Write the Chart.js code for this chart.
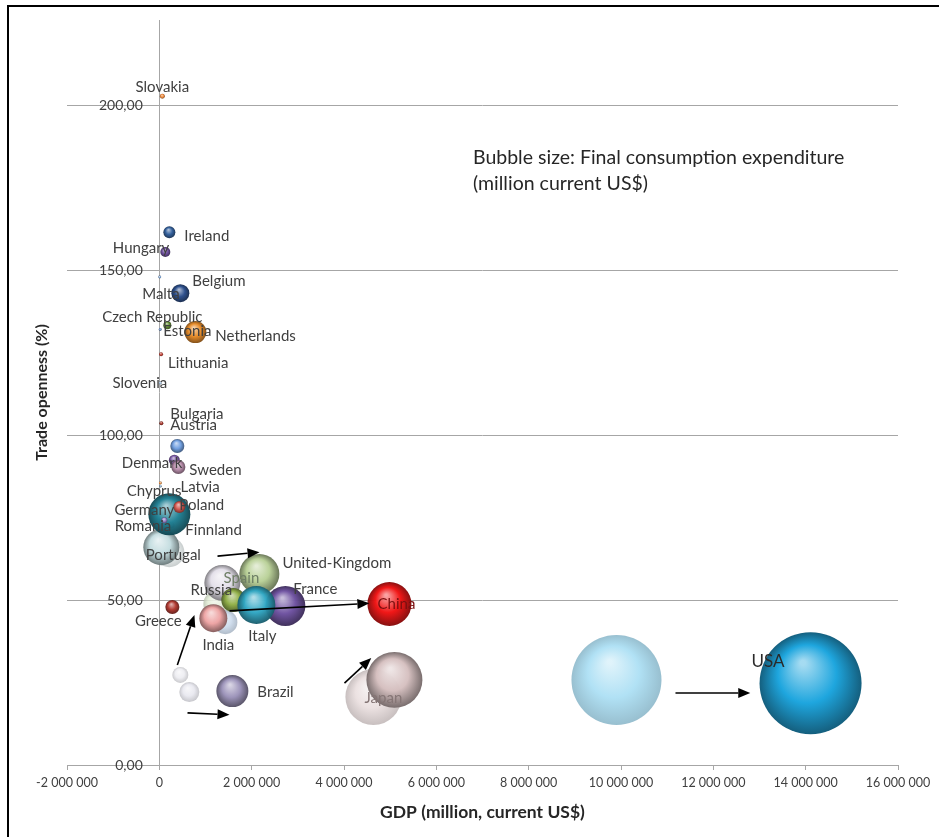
<!DOCTYPE html>
<html>
<head>
<meta charset="utf-8">
<title>Trade openness and GDP</title>
<script src="https://cdn.jsdelivr.net/npm/chart.js@4.4.1/dist/chart.umd.min.js"></script>
<style>
  html, body { margin: 0; padding: 0; background: #fff; }
  #wrap { position: relative; width: 944px; height: 837px; overflow: hidden; }
  #frame {
    position: absolute; left: 7px; top: 5px; width: 930px; height: 860px;
    border-left: 2px solid #000; border-top: 2px solid #000; pointer-events: none;
  }
</style>
</head>
<body>
<div id="wrap">
  <canvas id="chart"></canvas>
  <div id="frame"></div>
</div>
<script>
// Countries, listed back-to-front (drawing order)
const countries = ['Portugal', 'Finnland', 'Germany', 'Slovakia', 'Ireland', 'Hungary', 'Malta', 'Belgium',
  'Czech Republic', 'Estonia', 'Netherlands', 'Lithuania', 'Slovenia', 'Bulgaria', 'Austria', 'Denmark',
  'Sweden', 'Chyprus', 'Latvia', 'Poland', 'Romania', 'Spain', 'United-Kingdom', 'Russia', 'France',
  'Italy', 'India', 'Greece', 'China', 'Brazil', 'Japan', 'USA'];

// GDP (million, current US$)
const gdp = [43000, 260000, 217000, 65000, 217000, 130000, 8000, 455000,
  173000, 19000, 780000, 37000, 20000, 43000, 390000, 325000,
  412000, 23000, 24000, 433000, 108000, 1365000, 2167000, 1603000, 2730000,
  2102000, 1170000, 282000, 4984000, 1582000, 5092000, 14106000];

// Trade openness (%)
const openness = [66.0, 72.7, 76.0, 202.7, 161.5, 155.5, 147.9, 143.0,
  133.3, 132.0, 131.2, 124.5, 115.8, 103.6, 96.7, 92.4,
  90.3, 85.5, 84.5, 78.2, 74.2, 55.2, 57.9, 50.0, 48.2,
  48.5, 44.5, 47.9, 48.8, 22.4, 25.8, 24.8];

// Final consumption expenditure (million current US$) -> bubble size
const consumption = [1432000, 39800, 1950000, 27600, 159000, 110500, 9900, 358000,
  70700, 9900, 535000, 17700, 9900, 17700, 216600, 133700,
  216600, 9900, 6400, 159000, 39800, 1432000, 1768000, 637000, 1768000,
  1596000, 866500, 216600, 2140000, 1132000, 3466000, 11500000];

// Earlier-year positions (faded bubbles, unlabeled)
const earlierGdp = [217000, 1235000, 1430000, 455000, 650000, 4637000, 9902000];
const earlierOpenness = [64.5, 48.8, 43.3, 27.3, 22.1, 20.6, 25.8];
const earlierConsumption = [995000, 747000, 637000, 283000, 442000, 3466000, 8953000];

// Arrows (from earlier to later), in data units
const arrowFromX = [1260000, 1520000, 390000, 610000, 4010000, 11180000];
const arrowFromY = [63.3, 46.7, 30.3, 15.8, 24.8, 21.8];
const arrowToX = [2170000, 4550000, 760000, 1520000, 4590000, 12800000];
const arrowToY = [64.5, 49.0, 45.5, 15.2, 32.4, 21.8];

// Axis ticks
const yTicks = [0, 50, 100, 150, 200];

// ---- styling (kept apart from the data) ----
const bubbleColors = ['#c4dde0', '#c8d6e8', '#1d7f93', '#f08a3c', '#2e5c9a', '#6a4a9c', '#7fa7d8', '#274b8a',
  '#5e8c2e', '#6b8fc8', '#e88a25', '#c23b30', '#9bbad8', '#a83228', '#6d9de0', '#7a58a8',
  '#b58aa8', '#e08a40', '#7faad0', '#d9574e', '#9a86cc', '#e3dfe9', '#b8d096', '#8fae45', '#6c4f9f',
  '#2fa7c4', '#eea3a3', '#b0352c', '#f01010', '#9a91b8', '#d5bfbf', '#17a3dd'];
const earlierColors = ['#e8efef', '#e2ecd5', '#c8d8ea', '#ebebf0', '#e6e6ee', '#e8dcdc', '#a3dcf3'];

// label placement: [align, dx, dy] in pixels from bubble centre
const labelPlace = [
  ['center', 12, 8], ['left', 14, 5], ['right', 5, -4], ['center', 0, -9], ['left', 15, 4],
  ['right', 4, -4], ['right', 20, 17], ['left', 12, -12], ['center', -15, -8], ['left', 3, 2],
  ['left', 20, 4], ['left', 7, 9], ['right', 7, 0], ['left', 9, -9], ['left', -7, -21],
  ['right', 8, 3], ['left', 11, 3], ['right', 21, 8], ['left', 20, 1], ['left', 0, -2],
  ['right', 7, 6], ['center', 19, -5], ['left', 23, -11], ['center', -22, -10], ['left', 8, -17],
  ['center', 6, 31], ['center', 5, 27], ['center', -14, 14], ['center', 7, 0], ['left', 25, 1],
  ['center', -11, 18], ['left', -59, -22]
];
const labelColor = { 'China': '#7a1010', 'Japan': '#857575', 'Spain': '#6f7f66', 'USA': '#2a2a2a' };

const MAX_RADIUS = 51;
const maxConsumption = Math.max(...consumption);
function bubbleRadius(v) {
  return MAX_RADIUS * Math.sqrt(v / maxConsumption);
}

function tint(hex, amt, alpha) {
  const n = parseInt(hex.slice(1), 16);
  let r = n >> 16, g = (n >> 8) & 255, b = n & 255;
  const t = amt < 0 ? 0 : 255, p = Math.abs(amt);
  r = Math.round(r + (t - r) * p);
  g = Math.round(g + (t - g) * p);
  b = Math.round(b + (t - b) * p);
  return `rgba(${r},${g},${b},${alpha})`;
}

// 3D-looking sphere fill
function sphere(context, colors, alpha, rim) {
  const base = colors[context.dataIndex] || '#999999';
  const chart = context.chart;
  const raw = context.raw;
  if (!raw || !chart.chartArea) return base;
  const x = chart.scales.x.getPixelForValue(raw.x);
  const y = chart.scales.y.getPixelForValue(raw.y);
  const r = Math.max(raw.r, 0.5);
  const g = chart.ctx.createRadialGradient(x - r * 0.15, y - r * 0.4, r * 0.05, x, y, r);
  g.addColorStop(0, tint(base, 0.6, alpha));
  g.addColorStop(0.55, tint(base, 0, alpha));
  g.addColorStop(1, tint(base, -rim, alpha));
  return g;
}

const mainPoints = countries.map((c, i) => ({ x: gdp[i], y: openness[i], r: bubbleRadius(consumption[i]) }));
const earlierPoints = earlierGdp.map((g, i) => ({ x: g, y: earlierOpenness[i], r: bubbleRadius(earlierConsumption[i]) }));

function spaced(v) {
  return String(v).replace(/\B(?=(\d{3})+(?!\d))/g, ' ');
}

// Arrows, country labels and the size note
const overlayPlugin = {
  id: 'overlay',
  afterDatasetsDraw(chart) {
    const { ctx, scales: { x, y } } = chart;
    ctx.save();

    ctx.strokeStyle = '#000';
    ctx.fillStyle = '#000';
    ctx.lineWidth = 1.6;
    arrowFromX.forEach((fx, i) => {
      const x1 = x.getPixelForValue(fx), y1 = y.getPixelForValue(arrowFromY[i]);
      const x2 = x.getPixelForValue(arrowToX[i]), y2 = y.getPixelForValue(arrowToY[i]);
      const a = Math.atan2(y2 - y1, x2 - x1);
      const head = 12, w = 5;
      const bx = x2 - head * Math.cos(a), by = y2 - head * Math.sin(a);
      ctx.beginPath();
      ctx.moveTo(x1, y1);
      ctx.lineTo(bx, by);
      ctx.stroke();
      ctx.beginPath();
      ctx.moveTo(x2, y2);
      ctx.lineTo(bx + w * Math.sin(a), by - w * Math.cos(a));
      ctx.lineTo(bx - w * Math.sin(a), by + w * Math.cos(a));
      ctx.closePath();
      ctx.fill();
    });

    const meta = chart.getDatasetMeta(0);
    ctx.textBaseline = 'middle';
    meta.data.forEach((pt, i) => {
      const name = countries[i];
      const [align, dx, dy] = labelPlace[i];
      ctx.font = name === 'USA' ? '17px Lato' : '15px Lato';
      ctx.fillStyle = labelColor[name] || '#404040';
      ctx.textAlign = align;
      ctx.fillText(name, pt.x + dx, pt.y + dy);
    });

    ctx.font = '19.5px Lato';
    ctx.fillStyle = '#262626';
    ctx.textAlign = 'left';
    ctx.fillText('Bubble size: Final consumption expenditure', 473, 158);
    ctx.fillText('(million current US$)', 473, 184);
    ctx.restore();
  }
};

Chart.defaults.font.family = 'Lato';

new Chart(document.getElementById('chart'), {
  type: 'bubble',
  data: {
    datasets: [
      {
        label: 'Latest year',
        data: mainPoints,
        borderWidth: 0,
        backgroundColor: (c) => sphere(c, bubbleColors, 0.97, 0.45)
      },
      {
        label: 'Earlier year',
        data: earlierPoints,
        borderWidth: 0,
        backgroundColor: (c) => sphere(c, earlierColors, 0.85, 0.18)
      }
    ]
  },
  options: {
    responsive: true,
    maintainAspectRatio: false,
    animation: false,
    events: [],
    layout: { autoPadding: false, padding: { top: 20, right: 46, left: 0, bottom: 0 } },
    plugins: {
      legend: { display: false },
      tooltip: { enabled: false }
    },
    scales: {
      x: {
        type: 'linear',
        min: -2000000,
        max: 16000000,
        afterFit: (s) => { s.height = 72; s.paddingLeft = 0; s.paddingRight = 0; },
        ticks: {
          stepSize: 2000000,
          padding: 5,
          color: '#404040',
          font: { size: 12.5 },
          maxRotation: 0,
          callback: (v) => spaced(v)
        },
        grid: {
          color: (c) => (c.tick && c.tick.value === 0 ? '#a6a6a6' : 'rgba(0,0,0,0)'),
          tickColor: '#a6a6a6',
          tickLength: 5,
          lineWidth: 1
        },
        border: { color: '#a6a6a6' },
        title: {
          display: true,
          text: 'GDP (million, current US$)',
          color: '#262626',
          font: { size: 17.5, weight: 'bold' },
          padding: { top: 0, bottom: 14 }
        }
      },
      y: {
        type: 'linear',
        min: 0,
        max: 225.8,
        afterFit: (s) => { s.width = 67; s.paddingTop = 0; s.paddingBottom = 0; },
        afterBuildTicks: (s) => { s.ticks = yTicks.map((v) => ({ value: v })); },
        ticks: {
          mirror: true,
          crossAlign: 'far',
          padding: 32,
          color: '#404040',
          font: { size: 14 },
          callback: (v) => v.toFixed(2).replace('.', ',')
        },
        grid: { color: '#a6a6a6', drawTicks: false },
        border: { display: false },
        title: {
          display: true,
          text: 'Trade openness (%)',
          color: '#262626',
          font: { size: 16, weight: 'bold' },
          padding: { top: 32, bottom: 0 }
        }
      }
    }
  },
  plugins: [overlayPlugin]
});
</script>
</body>
</html>
